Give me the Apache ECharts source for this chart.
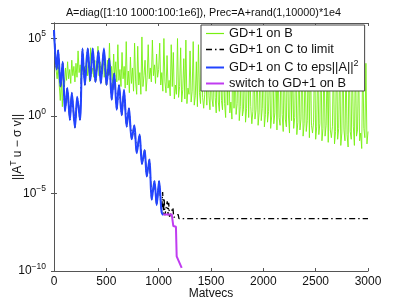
<!DOCTYPE html>
<html><head><meta charset="utf-8">
<script src="https://cdn.jsdelivr.net/npm/echarts@6/dist/echarts.min.js"></script>
<style>html,body{margin:0;padding:0;background:#fff}#c{width:407px;height:305px}</style>
</head><body><div id="c"></div>
<script>
// ---- data (values as log10 exponents) ----
const titleText = 'A=diag([1:10 1000:100:1e6]), Prec=A+rand(1,10000)*1e4';
const seriesNames = ['GD+1 on B', 'GD+1 on C to limit', 'GD+1 on C to eps||A||^2', 'switch to GD+1 on B'];
const xTicks = [0, 500, 1000, 1500, 2000, 2500, 3000];
const yTickExps = [-10, -5, 0, 5];

// green: matvecs 0..3000 step 10
const greenStep = 10;
const greenExp = [
 5.0, 4.3, 3.0, 2.4, 3.3, 2.0, 1.0, 2.3, 0.6, 2.5,
 1.9, 3.1, 2.3, 3.5, 2.4, 3.0, 2.1, 3.6, 2.6, 3.2,
 2.2, 3.4, 2.5, 4.2, 2.8, 3.3, 2.3, 3.7, 2.7, 3.2,
 2.4, 3.9, 2.6, 3.3, 2.2, 4.4, 2.7, 3.1, 2.5, 3.6,
 2.3, 3.2, 4.5, 2.6, 3.5, 2.4, 3.1, 3.9, 2.5, 3.3,
 2.0, 3.6, 2.6, 4.7, 2.4, 3.2, 2.1, 4.0, 2.5, 3.5,
 2.2, 4.6, 2.3, 3.0, 1.9, 4.1, 2.4, 3.2, 1.8, 4.8,
 2.0, 2.9, 1.5, 3.8, 2.1, 3.1, 1.6, 4.7, 2.2, 1.4,
 4.5, 2.0, 2.8, 1.4, 5.1, 1.9, 2.6, 3.6, 1.6, 2.5,
 4.6, 2.4, 3.1, 2.2, 4.9, 2.6, 3.3, 2.1, 4.0, 2.5,
 3.0, 4.7, 2.0, 2.8, 1.6, 5.0, 2.2, 1.5, 3.9, 1.8,
 2.3, 1.3, 4.6, 1.9, 4.1, 1.1, 2.0, 1.4, 5.0, 1.2,
 1.9, 4.4, 0.9, 1.7, 3.7, 1.1, 4.9, 0.8, 1.8, 1.4,
 4.2, 0.9, 1.6, 4.8, 0.7, 1.3, 3.5, 0.6, 4.6, 1.5,
 0.8, 5.0, 1.2, 0.5, 1.4, 4.0, 0.7, 4.7, 1.3, 0.4,
 3.6, 1.1, 0.6, 4.8, 1.2, 0.2, 4.3, 0.9, 0.3, 4.9,
 1.0, 0.4, 3.8, 0.8, -0.1, 4.6, 0.7, 4.1, 0.2, 0.9,
 -0.2, 4.7, 0.5, 3.4, 0.1, 0.8, 4.9, -0.3, 0.6, 4.2,
 0.0, 0.4, 3.7, -0.4, 0.5, 4.6, -0.1, 4.0, 0.6, -0.5,
 0.3, 4.8, -0.2, 0.4, 3.5, -0.6, 0.2, 4.5, -0.3, 0.5,
 4.1, -0.7, 0.1, 4.7, -0.4, 0.3, 3.6, -0.8, 0.0, 4.9,
 -0.5, 0.2, 4.3, -0.9, 3.8, -0.1, -0.6, 4.6, 0.1, -1.0,
 3.9, -0.2, -0.7, 4.8, 0.0, -1.1, 4.2, -0.3, 3.6, -0.8,
 -0.1, 4.7, -1.2, -0.4, 4.0, -0.9, -0.2, 4.9, -1.3, -0.5,
 3.7, -1.0, -0.3, 4.4, -1.4, 4.1, -0.6, -1.1, -0.4, 4.6,
 -1.5, -0.7, 3.8, -1.2, -0.5, 4.8, -1.6, -0.8, 4.2, -1.3,
 -0.6, 3.5, -1.7, 4.5, -0.9, -1.4, -0.7, 4.0, -1.8, -1.0,
 4.7, -1.5, -0.8, 3.9, -1.9, -1.1, 4.4, -0.9, -1.6, 3.6,
 -1.2, -2.0, 4.6, -1.0, -1.5, 3.8, -0.7, -1.9, 4.1, -1.3,
 -0.9, 3.7, -1.6, -1.1, -2.1, 4.2, -0.8, -1.4, 3.4, -1.8,
 -1.0
];

// blue: GD+1 on C to eps||A||^2
const blueMv  = [0, 12, 25, 40, 62, 83, 105, 127, 152, 170, 200, 222, 248, 272, 295, 322, 347, 370, 396, 424, 447, 477, 502, 528, 551, 576, 599, 621, 647, 669, 694, 716, 742, 768, 790, 818, 840, 866, 886, 912, 933, 960, 981, 1004, 1028, 1044];
const blueExp = [5.55, 4.0, 3.0, 4.25, 1.9, 3.5, 0.3, 1.8, -0.25, 1.5, -0.75, 1.25, -0.25, 4.35, 2.0, 4.35, 2.3, 4.35, 2.2, 4.2, 2.1, 4.35, 2.0, 3.7, 1.05, 2.75, 0.4, 2.0, 0.05, 1.7, -0.7, 0.5, -1.5, -0.6, -2.4, -1.2, -3.1, -2.2, -3.9, -2.8, -5.4, -4.2, -5.75, -4.2, -6.2, -6.4];

// black: GD+1 on C to limit (follows blue, then its own tail)
const blackTailMv  = [1030, 1038, 1046, 1052, 1060, 1082, 1090, 1096, 1104, 1136, 1144, 1186, 1194, 3000];
const blackTailExp = [-6.1, -4.9, -6.3, -5.3, -6.4, -5.5, -6.4, -5.6, -6.5, -5.9, -6.55, -6.35, -6.62, -6.62];

// magenta: switch to GD+1 on B
const magMv  = [1044, 1125, 1140, 1165, 1172, 1185, 1220];
const magExp = [-6.35, -6.35, -7.1, -7.15, -9.05, -9.15, -9.8];

// ---- build ----
const p10 = e => Math.pow(10, e);
const greenData = greenExp.map((e, i) => [i * greenStep, p10(e)]);
const blueData = blueMv.map((m, i) => [m, p10(blueExp[i])]);
const blackData = blueMv.filter(m => m < 1030).map((m, i) => [m, p10(blueExp[i])])
  .concat(blackTailMv.map((m, i) => [m, p10(blackTailExp[i])]));
const magData = magMv.map((m, i) => [m, p10(magExp[i])]);

const FONT = '"Liberation Sans", Arial, Helvetica, sans-serif';
const axisCol = '#555';
const chart = echarts.init(document.getElementById('c'), null, {renderer: 'canvas'});

const yLabelFmt = v => {
  const e = Math.round(Math.log10(v));
  if (yTickExps.indexOf(e) < 0) return '';
  return '{b|10}{s|' + (e < 0 ? '\u2212' + (-e) : e) + '}';
};
const yRich = {
  b: {fontSize: 12, fontFamily: FONT, color: '#111'},
  s: {fontSize: 8.5, fontFamily: FONT, color: '#111', padding: [0, 0, 9, 0]}
};
const colors = ['#77f011', '#000000', '#2244ff', '#c03cf0'];
const styles = [
  {color: colors[0], width: 0.9},
  {color: colors[1], width: 1.3, type: [6, 3, 1.5, 3]},
  {color: colors[2], width: 2},
  {color: colors[3], width: 2}
];

chart.setOption({
  animation: false,
  backgroundColor: '#fff',
  title: {
    text: titleText, left: 'center', top: 3,
    textStyle: {fontSize: 10.8, fontWeight: 'normal', fontFamily: FONT, color: '#111'}
  },
  grid: {left: 54, right: 39, top: 23, bottom: 34, containLabel: false, outerBoundsMode: 'none'},
  legend: {
    left: 201, top: 25,
    orient: 'vertical',
    backgroundColor: '#fff', borderColor: '#444', borderWidth: 1,
    padding: [2, 6, 1, 4],
    itemWidth: 18, itemHeight: 14, itemGap: 3,
    textStyle: {fontSize: 12.8, fontFamily: FONT, color: '#111',
      rich: {t: {fontSize: 12.8, fontFamily: FONT, color: '#111'},
             s: {fontSize: 9, fontFamily: FONT, color: '#111', padding: [0, 0, 8, 0]}}},
    formatter: n => n.indexOf('^2') >= 0 ? '{t|' + n.replace('^2', '') + '}{s|2}' : n,
    data: seriesNames.map((n, i) => ({name: n,
      itemStyle: {opacity: 0}, lineStyle: i === 0 ? {color: colors[0], width: 1.2} : styles[i]}))
  },
  xAxis: [{
    type: 'value', min: 0, max: 3000, interval: 500,
    name: 'Matvecs', nameLocation: 'middle', nameGap: 17, nameMoveOverlap: false,
    nameTextStyle: {fontSize: 12, fontFamily: FONT, color: '#111'},
    axisLine: {show: true, lineStyle: {color: axisCol}},
    axisTick: {show: true, inside: true, length: 3, lineStyle: {color: axisCol}},
    axisLabel: {fontSize: 12, fontFamily: FONT, color: '#111', margin: 5,
      formatter: v => xTicks.indexOf(v) >= 0 ? String(v) : ''},
    splitLine: {show: false}
  }, {
    type: 'value', min: 0, max: 3000, interval: 500, position: 'top',
    axisLine: {show: true, lineStyle: {color: axisCol}},
    axisTick: {show: true, inside: true, length: 3, lineStyle: {color: axisCol}},
    axisLabel: {show: false}, splitLine: {show: false}
  }],
  yAxis: [{
    type: 'log', logBase: 10, min: 1e-10, max: 1e6, interval: 5,
    name: '||A{s|T} u \u2212 \u03c3 v||', nameLocation: 'middle', nameGap: 27, nameRotate: 90,
    nameMoveOverlap: false,
    nameTextStyle: {fontSize: 12, fontFamily: FONT, color: '#111',
      rich: {s: {fontSize: 8.5, fontFamily: FONT, color: '#111', padding: [0, 0, 9, 0]}}},
    axisLine: {show: true, lineStyle: {color: axisCol}},
    axisTick: {show: true, inside: true, length: 3, lineStyle: {color: axisCol}},
    axisLabel: {formatter: yLabelFmt, rich: yRich, margin: 8, showMaxLabel: false},
    minorTick: {show: false}, splitLine: {show: false}
  }, {
    type: 'log', logBase: 10, min: 1e-10, max: 1e6, interval: 5, position: 'right',
    axisLine: {show: true, lineStyle: {color: axisCol}},
    axisTick: {show: true, inside: true, length: 3, lineStyle: {color: axisCol}},
    axisLabel: {show: false}, splitLine: {show: false}
  }],
  series: seriesNames.map((n, i) => ({
    name: n, type: 'line',
    data: [greenData, blackData, blueData, magData][i],
    showSymbol: false, symbol: 'none', smooth: i === 2 ? 0.35 : false,
    lineStyle: styles[i], itemStyle: {color: colors[i]}
  }))
});
</script></body></html>
